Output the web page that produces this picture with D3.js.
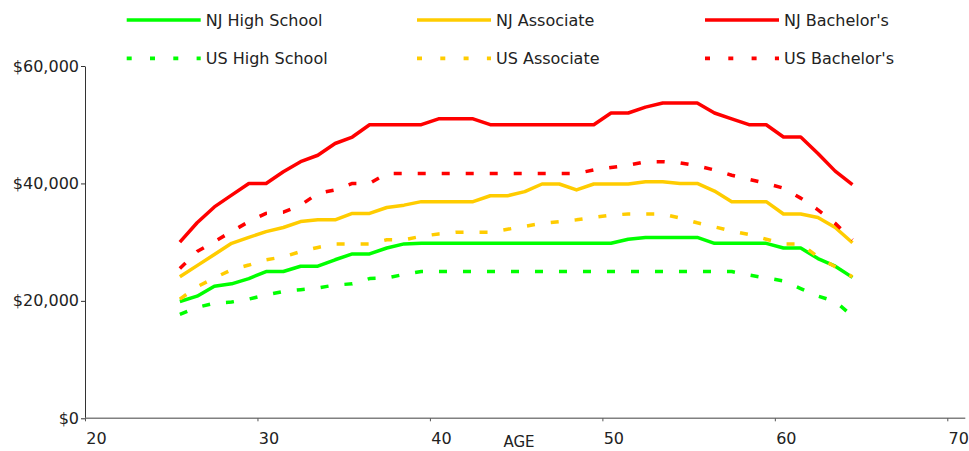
<!DOCTYPE html>
<html>
<head>
<meta charset="utf-8">
<script src="https://cdn.jsdelivr.net/npm/d3@7"></script>
<style>
  body { margin: 0; background: #fff; }
  text { font-family: "DejaVu Sans", Verdana, sans-serif; fill: #222; }
</style>
</head>
<body>
<svg id="chart" width="969" height="451"></svg>
<script>
// ages (plotted at mid-year)
var ages = [25.5, 26.5, 27.5, 28.5, 29.5, 30.5, 31.5, 32.5, 33.5, 34.5,
            35.5, 36.5, 37.5, 38.5, 39.5, 40.5, 41.5, 42.5, 43.5, 44.5,
            45.5, 46.5, 47.5, 48.5, 49.5, 50.5, 51.5, 52.5, 53.5, 54.5,
            55.5, 56.5, 57.5, 58.5, 59.5, 60.5, 61.5, 62.5, 63.5, 64.5];

var njHighSchool = [19900, 20800, 22500, 22900, 23800, 25000, 25000, 25900, 25900, 27000,
                    28000, 28000, 29000, 29700, 29800, 29800, 29800, 29800, 29800, 29800,
                    29800, 29800, 29800, 29800, 29800, 29800, 30500, 30800, 30800, 30800,
                    30800, 29800, 29800, 29800, 29800, 29000, 29000, 27200, 25900, 24000];
var njAssociate = [24100, 26000, 27900, 29800, 30800, 31800, 32500, 33500, 33800, 33800,
                   34900, 34900, 35900, 36300, 36900, 36900, 36900, 36900, 37900, 37900,
                   38600, 39900, 39900, 38900, 39900, 39900, 39900, 40300, 40300, 40000,
                   40000, 38700, 36900, 36900, 36900, 34800, 34800, 34200, 32500, 29900];
var njBachelors = [30000, 33300, 36000, 38000, 40000, 40000, 42000, 43700, 44800, 46800,
                   47900, 50000, 50000, 50000, 50000, 51000, 51000, 51000, 50000, 50000,
                   50000, 50000, 50000, 50000, 50000, 52000, 52000, 53000, 53700, 53700,
                   53700, 52000, 51000, 50000, 50000, 47900, 47900, 45100, 42100, 39800];
var usHighSchool = [17700, 18900, 19600, 19800, 20300, 21000, 21600, 21900, 22200, 22700,
                    22900, 23800, 23900, 24500, 25000, 25000, 25000, 25000, 25000, 25000,
                    25000, 25000, 25000, 25000, 25000, 25000, 25000, 25000, 25000, 25000,
                    25000, 25000, 25000, 24400, 23900, 23400, 22100, 20800, 19900, 17400];
var usAssociate = [20300, 22400, 23900, 25300, 26100, 27000, 27500, 28400, 29100, 29700,
                   29700, 29700, 30400, 30400, 31000, 31400, 31700, 31700, 31700, 32200,
                   32700, 33200, 33500, 33800, 34200, 34600, 34800, 34800, 34800, 34100,
                   33300, 32600, 31900, 31300, 30500, 29700, 29700, 27500, 25800, 24100];
var usBachelors = [25500, 28400, 30100, 31800, 33500, 34900, 35100, 36300, 38300, 38900,
                   40000, 40000, 41700, 41700, 41700, 41700, 41700, 41700, 41700, 41700,
                   41700, 41700, 41700, 41700, 42300, 42700, 43100, 43700, 43700, 43500,
                   43000, 42300, 41400, 40700, 40000, 39200, 37500, 35500, 33200, 30400];

var seriesNames = ["NJ High School", "NJ Associate", "NJ Bachelor's",
                   "US High School", "US Associate", "US Bachelor's"];
var xTicks = [20, 30, 40, 50, 60, 70];
var yTicks = [0, 20000, 40000, 60000];

var colors = ["#00ff00", "#ffcc00", "#ff0000"];

var series = [
  { name: seriesNames[0], values: njHighSchool, color: colors[0], dashed: false },
  { name: seriesNames[1], values: njAssociate,  color: colors[1], dashed: false },
  { name: seriesNames[2], values: njBachelors,  color: colors[2], dashed: false },
  { name: seriesNames[3], values: usHighSchool, color: colors[0], dashed: true },
  { name: seriesNames[4], values: usAssociate,  color: colors[1], dashed: true },
  { name: seriesNames[5], values: usBachelors,  color: colors[2], dashed: true }
];

var svg = d3.select("#chart");

var x = d3.scaleLinear().domain([20, 70]).range([85, 947.3]);
var y = d3.scaleLinear().domain([0, 60000]).range([418.3, 66]);

// y axis
var yAxis = d3.axisLeft(y).tickValues(yTicks).tickSize(4).tickSizeOuter(0)
  .tickFormat(function(d) { return "$" + d3.format(",")(d); });
var gy = svg.append("g").attr("transform", "translate(" + x(20) + ",0)").call(yAxis);
gy.select(".domain").attr("stroke", "#333");
gy.selectAll(".tick line").attr("stroke", "#333");
gy.selectAll(".tick text").attr("x", -6).style("font-size", "16px")
  .style("font-family", "'DejaVu Sans', Verdana, sans-serif").attr("fill", "#222");

// x axis
var xAxis = d3.axisBottom(x).tickValues(xTicks).tickSize(3).tickSizeOuter(0);
var gx = svg.append("g").attr("transform", "translate(0," + y(0) + ")").call(xAxis);
gx.select(".domain").remove();
gx.insert("line", ":first-child")
  .attr("x1", x(20)).attr("x2", x.range()[1] + 18)
  .attr("stroke", "#808080").attr("stroke-width", 1.5);
gx.selectAll(".tick line").attr("stroke", "#555");
gx.selectAll(".tick text").attr("dx", 11).attr("y", 14).style("font-size", "16px")
  .style("font-family", "'DejaVu Sans', Verdana, sans-serif").attr("fill", "#222");

svg.append("text")
  .attr("x", 519).attr("y", y(0) + 29)
  .attr("text-anchor", "middle")
  .style("font-size", "15px")
  .text("AGE");

// lines
var line = d3.line()
  .x(function(d, i) { return x(ages[i]); })
  .y(function(d) { return y(d); });

svg.append("g").selectAll("path")
  .data(series)
  .join("path")
  .attr("d", function(s) { return line(s.values); })
  .attr("fill", "none")
  .attr("stroke", function(s) { return s.color; })
  .attr("stroke-width", 3.5)
  .attr("stroke-linejoin", "round")
  .attr("stroke-dasharray", function(s) { return s.dashed ? "8,16" : null; });

// legend
var legendCols = [126.7, 417, 705];
var legendRows = [20, 58.3];

var legend = svg.append("g").selectAll("g")
  .data(series)
  .join("g")
  .attr("transform", function(s, i) {
    return "translate(" + legendCols[i % 3] + "," + legendRows[Math.floor(i / 3)] + ")";
  });

legend.append("line")
  .attr("x1", 0).attr("x2", 74)
  .attr("stroke", function(s) { return s.color; })
  .attr("stroke-width", 3.7)
  .attr("stroke-dasharray", function(s) { return s.dashed ? "5,18.3" : null; });

legend.append("text")
  .attr("x", 79).attr("y", 5.5)
  .style("font-size", "16px")
  .text(function(s) { return s.name; });
</script>
</body>
</html>
